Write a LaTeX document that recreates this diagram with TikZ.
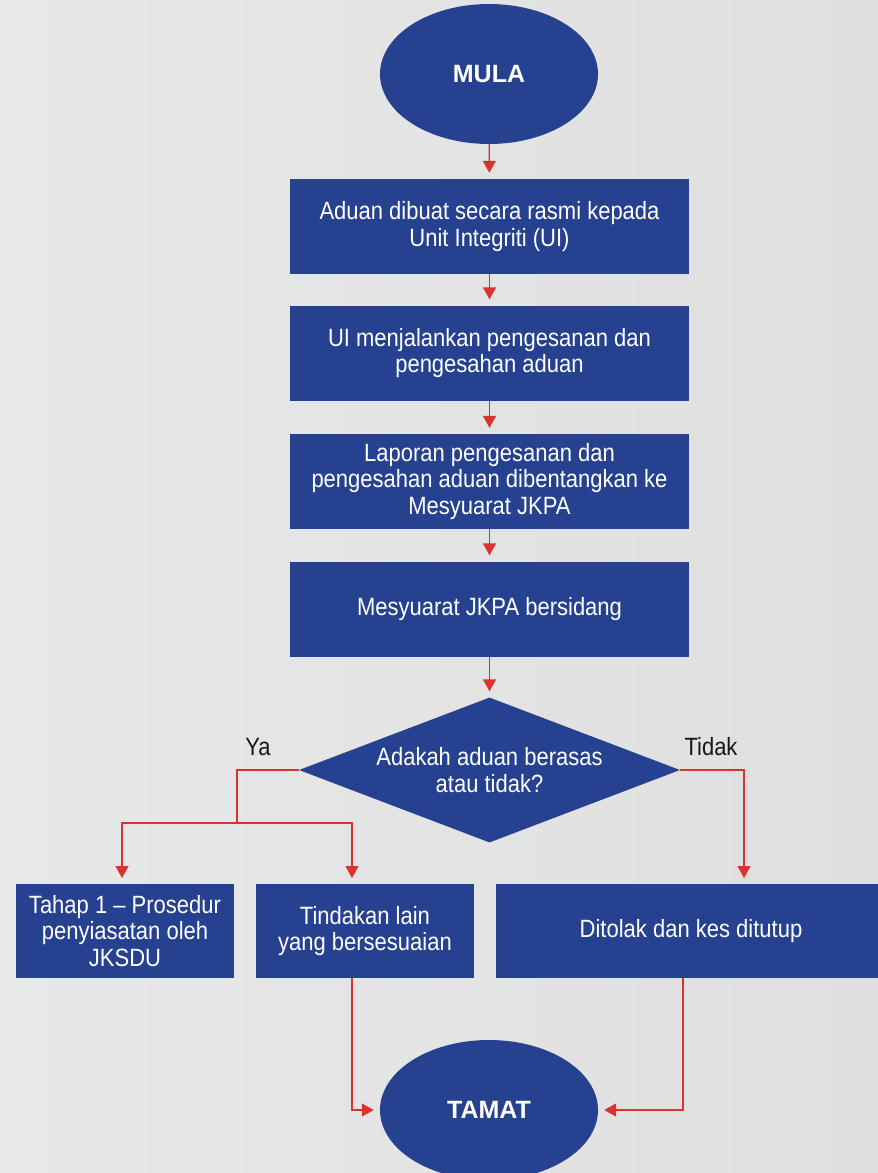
\documentclass[tikz,border=0pt]{standalone}
\usepackage{fontspec}
\setmainfont{Liberation Sans}[FakeStretch=0.88]
\newfontfamily\plainsans{Liberation Sans}
\usetikzlibrary{shapes.geometric,arrows.meta}
\definecolor{nodeblue}{HTML}{26418F}
\definecolor{arrred}{HTML}{D8332C}
\definecolor{bgA}{HTML}{E7E8E8}
\definecolor{bgB}{HTML}{DFDFDF}
\definecolor{labelcol}{HTML}{1E1414}
\tikzset{
  stepbox/.style={rectangle, fill=nodeblue, text=white, inner sep=0pt,
    minimum width=399pt, minimum height=95pt, align=center,
    font=\fontsize{25}{26.5}\selectfont},
  smallbox/.style={stepbox, minimum width=218pt, minimum height=94pt},
  terminal/.style={ellipse, fill=nodeblue, text=white, inner sep=0pt,
    minimum width=218pt, minimum height=140pt,
    font=\plainsans\bfseries\fontsize{25}{28}\selectfont},
  decision/.style={diamond, fill=nodeblue, text=white, inner sep=0pt,
    aspect=2.63, minimum width=381pt, minimum height=145pt, align=center,
    font=\fontsize{25}{26.5}\selectfont},
  line/.style={draw=arrred, line width=1.4pt},
  arr/.style={line, -{Triangle[width=13pt,length=12pt]}, shorten >=6pt},
  lbl/.style={text=labelcol, font=\fontsize{25}{26}\selectfont, inner sep=0pt}
}
\begin{document}
\begin{tikzpicture}[x=1pt,y=-1pt]
\useasboundingbox (0,0) rectangle (878,1173);
\shade[left color=bgA, right color=bgB] (0,0) rectangle (878,1173);

\node[terminal] (mula) at (489,74) {MULA};
\node[stepbox] (b1) at (489.5,226.5) {Aduan dibuat secara rasmi kepada\\Unit Integriti (UI)};
\node[stepbox] (b2) at (489.5,353) {UI menjalankan pengesanan dan\\pengesahan aduan};
\node[stepbox] (b3) at (489.5,481.5) {Laporan pengesanan dan\\pengesahan aduan dibentangkan ke\\Mesyuarat JKPA};
\node[stepbox] (b4) at (489.5,609) {Mesyuarat JKPA bersidang};
\node[decision] (dia) at (489.5,770) {Adakah aduan berasas\\atau tidak?};
\node[smallbox] (ba) at (125,931) {Tahap 1 -- Prosedur\\penyiasatan oleh\\JKSDU};
\node[smallbox] (bb) at (365,931) {Tindakan lain\\yang bersesuaian};
\node[smallbox, minimum width=390pt] (bc) at (691,931) {Ditolak dan kes ditutup};
\node[terminal] (tamat) at (489,1110) {TAMAT};

\node[lbl] (ya) at (258,747) {Ya};
\node[lbl] (tidak) at (711,747) {Tidak};

\draw[arr] (mula) -- (b1);
\draw[arr] (b1) -- (b2);
\draw[arr] (b2) -- (b3);
\draw[arr] (b3) -- (b4);
\draw[arr] (b4) -- (dia);

\coordinate (split) at (237,823);
\coordinate (ina) at (122,884);
\coordinate (inb) at (352,884);
\coordinate (inc) at (744,884);
\draw[line] (dia.west) -| (split);
\draw[arr] (split) -| (ina);
\draw[arr] (split) -| (inb);
\draw[arr] (dia.east) -| (inc);

\coordinate (outb) at (352,978);
\coordinate (outc) at (683,978);
\draw[arr] (outb) |- (tamat.west);
\draw[arr] (outc) |- (tamat.east);
\end{tikzpicture}
\end{document}
